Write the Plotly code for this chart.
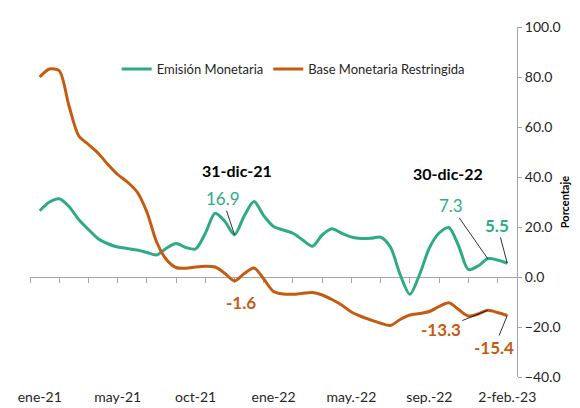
import plotly.graph_objects as go

# 49 observations (category index), labels every 8 categories
x_idx = list(range(49))
tick_pos = [0, 8, 16, 24, 32, 40, 48]
tick_text = ["ene-21", "may-21", "oct-21", "ene-22", "may.-22", "sep.-22", "2-feb.-23"]

emision = [
    26.5, 30.0, 31.3, 28.2, 23.0, 19.0, 15.3, 13.3, 12.0, 11.4,
    10.8, 9.8, 8.8, 11.5, 13.4, 11.8, 11.2, 17.5, 25.5, 22.3,
    16.9, 24.5, 30.2, 24.5, 20.2, 18.8, 17.5, 14.8, 12.3, 16.8,
    19.3, 17.5, 16.0, 15.4, 15.5, 15.9, 12.0, 1.0, -6.9, 1.0,
    11.6, 17.6, 19.8, 12.5, 3.0, 4.4, 7.3, 6.8, 5.5,
]
base_restringida = [
    80.0, 83.2, 82.5, 68.5, 56.5, 53.0, 49.5, 45.0, 41.0, 38.0,
    34.0, 26.0, 14.0, 7.0, 3.8, 3.5, 4.0, 4.3, 4.0, 1.5,
    -1.6, 1.4, 3.6, -0.8, -5.8, -6.8, -6.9, -6.5, -6.2, -7.2,
    -9.0, -11.2, -14.0, -15.8, -17.2, -18.5, -19.4, -17.0, -15.2, -14.6,
    -13.8, -11.8, -10.3, -13.0, -15.6, -14.8, -13.3, -14.2, -15.4,
]

GREEN = "#2EAB86"
ORANGE = "#C55A11"
AXIS = "#A6A6A6"
FONT = "Lato"

fig = go.Figure()
fig.add_trace(go.Scatter(
    x=x_idx, y=emision, name="Emisión Monetaria", mode="lines",
    line=dict(color=GREEN, width=3, shape="spline", smoothing=0.8),
    xaxis="x", yaxis="y",
))
fig.add_trace(go.Scatter(
    x=x_idx, y=base_restringida, name="Base Monetaria Restringida", mode="lines",
    line=dict(color=ORANGE, width=3, shape="spline", smoothing=0.8),
    xaxis="x2", yaxis="y",
))

annots = [
    dict(x=20, y=emision[20], text="16.9", ax=-12, ay=-36,
         font=dict(color=GREEN, size=17)),
    dict(x=46, y=emision[46], text="7.3", ax=-37, ay=-53,
         font=dict(color=GREEN, size=17)),
    dict(x=48, y=emision[48], text="<b>5.5</b>", ax=-10, ay=-38,
         font=dict(color=GREEN, size=17)),
    dict(x=46, y=base_restringida[46], text="<b>-13.3</b>", ax=-47, ay=19,
         font=dict(color=ORANGE, size=17)),
    dict(x=48, y=base_restringida[48], text="<b>-15.4</b>", ax=-13, ay=32,
         font=dict(color=ORANGE, size=17)),
]
for a in annots:
    fig.add_annotation(**a, xref="x", yref="y", showarrow=True, arrowhead=0,
                       arrowwidth=0.8, arrowcolor="black", standoff=0)

fig.add_annotation(x=20, y=base_restringida[20], text="<b>-1.6</b>", xref="x", yref="y",
                   showarrow=False, xshift=6, yshift=-21,
                   font=dict(color=ORANGE, size=17))
fig.add_annotation(x=20.3, y=42.5, text="<b>31-dic-21</b>", xref="x", yref="y",
                   showarrow=False, font=dict(color="black", size=16))
fig.add_annotation(x=41.95, y=41.5, text="<b>30-dic-22</b>", xref="x", yref="y",
                   showarrow=False, font=dict(color="black", size=16))
# axis title, placed by hand so it sits inside the narrow right margin
fig.add_annotation(x=1.097, y=0.5, xref="paper", yref="paper", xanchor="center",
                   text="<b>Porcentaje</b>", textangle=-90, showarrow=False,
                   font=dict(color="black", size=11))

# the page body adds an 8px offset, so margins are trimmed to compensate
fig.update_layout(
    width=580, height=408,
    margin=dict(l=10, r=71, t=16, b=39),
    plot_bgcolor="white", paper_bgcolor="white",
    font=dict(family=FONT, color="#262626", size=14),
    showlegend=True,
    legend=dict(orientation="h", x=0.178, y=0.88, xanchor="left", yanchor="middle",
                font=dict(size=13), bgcolor="rgba(0,0,0,0)"),
    xaxis=dict(range=[-1, 49], tickmode="array", tickvals=tick_pos, ticktext=tick_text,
               showline=False, showgrid=False, zeroline=False, ticks="",
               ticklabelstandoff=10, ticklabeloverflow="allow", tickfont=dict(size=14)),
    xaxis2=dict(range=[-1, 49], overlaying="x", anchor="free", position=40 / 140,
                side="bottom", showline=True, linecolor=AXIS, linewidth=1,
                ticks="outside", ticklen=5, tickcolor=AXIS, tickmode="linear",
                tick0=-1, dtick=3, showticklabels=False, showgrid=False,
                zeroline=False, layer="below traces"),
    yaxis=dict(range=[-40, 100], side="right", dtick=20, tick0=0, tickformat=".1f",
               showline=True, linecolor=AXIS, ticks="outside", ticklen=4, tickcolor=AXIS,
               showgrid=False, zeroline=False, tickfont=dict(size=14)),
)

fig.write_html("out.html")
